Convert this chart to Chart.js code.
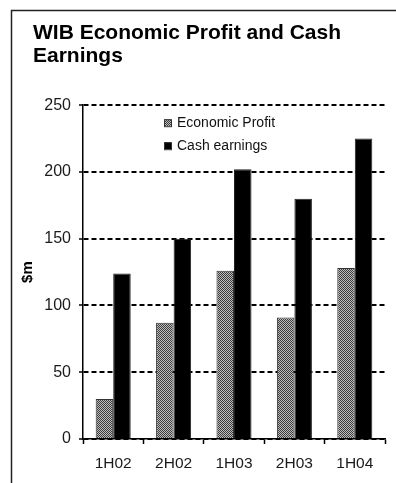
<!DOCTYPE html>
<html>
<head>
<meta charset="utf-8">
<script src="https://cdn.jsdelivr.net/npm/chart.js@4/dist/chart.umd.min.js"></script>
<style>
	html, body { margin: 0; padding: 0; background: #fff; }
	#wrap { width: 396px; height: 483px; }
</style>
</head>
<body>
<div id="wrap"><canvas id="wib-chart" width="396" height="483"></canvas></div>
<script>
var periods = ['1H02', '2H02', '1H03', '2H03', '1H04'];
var economicProfit = [30, 87, 126, 91, 128];
var cashEarnings = [124, 150, 202, 180, 225];
var yTicks = [0, 50, 100, 150, 200, 250];
var titleLines = ['WIB Economic Profit and Cash', 'Earnings'];

// grey dotted fill for the economic profit bars
const make_dot_pattern = () => {
	let c = document.createElement('canvas');
	c.width = 2;
	c.height = 2;
	let g = c.getContext('2d');
	g.fillStyle = '#bdbdbd';
	g.fillRect(0, 0, 2, 2);
	g.fillStyle = '#3c3c3c';
	g.fillRect(0, 0, 1, 1);
	g.fillRect(1, 1, 1, 1);
	return g.createPattern(c, 'repeat');
}

const dotFill = make_dot_pattern();

// white page + open frame (top and left edges only)
const framePlugin = {
	id: 'frame',
	beforeDraw: (chart) => {
		const ctx = chart.ctx;
		ctx.save();
		ctx.fillStyle = '#fff';
		ctx.fillRect(0, 0, chart.width, chart.height);
		ctx.strokeStyle = '#222';
		ctx.lineWidth = 1.5;
		ctx.beginPath();
		ctx.moveTo(chart.width, 10.5);
		ctx.lineTo(11.5, 10.5);
		ctx.lineTo(11.5, chart.height);
		ctx.stroke();
		ctx.restore();
	}
};

// legend stacked inside the plot, near the top
const innerLegend = {
	id: 'innerLegend',
	afterDatasetsDraw: (chart) => {
		const ctx = chart.ctx;
		const area = chart.chartArea;
		ctx.save();
		ctx.font = '14px "Liberation Sans", Arial, sans-serif';
		ctx.textBaseline = 'middle';
		chart.data.datasets.forEach((ds, i) => {
			let x = area.left + 81;
			let y = area.top + 14 + i * 23;
			ctx.fillStyle = ds.backgroundColor;
			ctx.fillRect(x, y, 7, 7);
			ctx.strokeStyle = '#333';
			ctx.lineWidth = 1;
			ctx.strokeRect(x + 0.5, y + 0.5, 7, 7);
			ctx.fillStyle = '#111';
			ctx.fillText(ds.label, x + 13, y + 4);
		});
		ctx.restore();
	}
};

const set_config_bar = () => {
	return {
		type: 'bar',
		data: {
			labels: periods,
			datasets: [{
				label: 'Economic Profit',
				data: economicProfit,
				backgroundColor: dotFill,
				borderColor: '#333',
				borderWidth: 1
			}, {
				label: 'Cash earnings',
				data: cashEarnings,
				backgroundColor: '#000',
				borderColor: '#222',
				borderWidth: 1
			}]
		},
		options: {
			responsive: false,
			animation: false,
			events: [],
			layout: {
				padding: { left: 33, right: 11, top: 12, bottom: 0 }
			},
			datasets: {
				bar: {
					categoryPercentage: 0.58,
					barPercentage: 1.0
				}
			},
			scales: {
				x: {
					grid: {
						drawOnChartArea: false,
						drawTicks: true,
						tickLength: 5,
						tickColor: '#000',
						tickWidth: 1.5
					},
					border: { display: true, color: '#000', width: 1.5 },
					ticks: {
						color: '#1a1a1a',
						padding: 10,
						font: { family: '"Liberation Sans", Arial, sans-serif', size: 15.5 }
					},
					afterFit: (scale) => { scale.height = 44; }
				},
				y: {
					min: 0,
					max: 250,
					afterBuildTicks: (scale) => {
						scale.ticks = yTicks.map(v => ({ value: v }));
					},
					grid: {
						color: '#000',
						lineWidth: 2,
						tickLength: 4,
						tickColor: '#000',
						tickWidth: 1.5,
						tickBorderDash: []
					},
					border: { display: true, color: '#000', width: 1.5, dash: [5, 3] },
					ticks: {
						color: '#1a1a1a',
						padding: 8,
						font: { family: '"Liberation Sans", Arial, sans-serif', size: 16 }
					},
					title: {
						display: true,
						text: '$m',
						color: '#000',
						padding: { top: -14, bottom: 0 },
						font: { family: '"Liberation Sans", Arial, sans-serif', size: 15, weight: 'bold' }
					},
					afterFit: (scale) => { scale.width = 50; }
				}
			},
			plugins: {
				legend: { display: false },
				tooltip: { enabled: false },
				title: {
					display: true,
					text: titleLines,
					align: 'start',
					color: '#000',
					padding: { top: 10, bottom: 37 },
					font: { family: '"Liberation Sans", Arial, sans-serif', size: 21, weight: 'bold', lineHeight: 1.1 }
				}
			}
		},
		plugins: [framePlugin, innerLegend]
	};
}

new Chart(document.getElementById('wib-chart'), set_config_bar());
</script>
</body>
</html>
